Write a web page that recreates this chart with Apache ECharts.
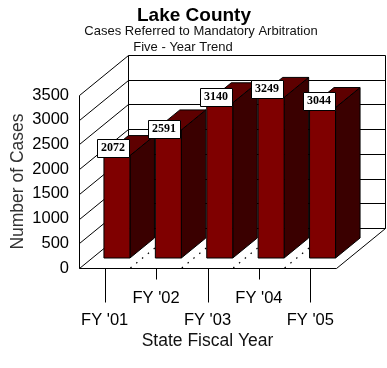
<!DOCTYPE html>
<html><head><meta charset="utf-8">
<style>html,body{margin:0;padding:0;background:#fff}#c{width:387px;height:368px}</style>
<script src="https://cdn.jsdelivr.net/npm/echarts@6/dist/echarts.min.js"></script>
</head><body><div id="c"></div>
<script>
var categories = ["FY '01","FY '02","FY '03","FY '04","FY '05"];
var cases = [2072,2591,3140,3249,3044];
var yTicks = [0,500,1000,1500,2000,2500,3000,3500];
var labelNudge = [-8,-1,-6,-8,-7];

var DX = 49, DY = -40;      // full depth of the 3D box
var front = 0.25, back = 0.75;
var FRONT='#7f0000', SIDE='#3a0000', TOP='#5e0000';
var line = {stroke:'#000',lineWidth:1,fill:null};
function at(p,d){return [p[0]+DX*d,p[1]+DY*d];}
function S(p){return [Math.round(p[0])+0.5,Math.round(p[1])+0.5];}
function seg(a,b,st){a=S(a);b=S(b);return {type:'line',shape:{x1:a[0],y1:a[1],x2:b[0],y2:b[1]},style:st||line};}
function poly(pts,fill){return {type:'polygon',shape:{points:pts},style:{fill:fill,stroke:'#000',lineWidth:1}};}

var chart = echarts.init(document.getElementById('c'),null,{renderer:'canvas'});
chart.setOption({
  animation:false,
  backgroundColor:'#fff',
  title:[
    {text:'Lake County',left:194,top:6,padding:0,textAlign:'center',textStyle:{fontFamily:'Liberation Sans',fontWeight:'bold',fontSize:19,color:'#000'}},
    {text:'Cases Referred to Mandatory Arbitration',left:201,top:25,padding:0,textAlign:'center',textStyle:{fontFamily:'Liberation Sans',fontWeight:'normal',fontSize:13,color:'#111'}},
    {text:'Five - Year Trend',left:183,top:41,padding:0,textAlign:'center',textStyle:{fontFamily:'Liberation Sans',fontWeight:'normal',fontSize:13,color:'#111'}}
  ],
  grid:{left:79,top:95,width:257,height:173,outerBoundsMode:'none'},
  xAxis:{type:'category',data:categories,
    name:'State Fiscal Year',nameLocation:'middle',nameGap:64,nameMoveOverlap:false,
    nameTextStyle:{fontFamily:'Liberation Sans',fontSize:17.5,color:'#111'},
    axisLine:{show:false},axisTick:{show:false},
    axisLabel:{interval:0,margin:19,lineHeight:22,fontFamily:'Liberation Sans',fontSize:16.5,color:'#000',
      verticalAlign:'top',
      formatter:function(v,i){return i%2? v+'\n ':' \n'+v;}}
  },
  yAxis:{type:'value',min:0,max:3500,interval:500,
    name:'Number of Cases',nameLocation:'middle',nameGap:52,nameRotate:90,nameMoveOverlap:false,
    nameTextStyle:{fontFamily:'Liberation Sans',fontSize:17.5,color:'#333'},
    axisLine:{show:false},axisTick:{show:false},splitLine:{show:false},
    axisLabel:{margin:10,fontFamily:'Liberation Sans',fontSize:16.5,color:'#000',formatter:function(v){return String(v);}}
  },
  series:[
    { // walls and gridlines
      type:'custom',silent:true,z:1,data:yTicks,
      encode:{y:0},
      renderItem:function(p,api){
        var v=api.value(0), left=api.coord([0,v]);
        var x0=p.coordSys.x, x1=x0+p.coordSys.width;
        var a=[x0,left[1]], b=at(a,1), c=at([x1,left[1]],1);
        var ch=[seg(a,b),seg(b,c)];
        if(v===0){
          var top=[x0,api.coord([0,3500])[1]];
          ch.push(seg(top,a));            // front-left vertical
          ch.push(seg(at(top,1),b));      // back-left vertical
          ch.push(seg(at([x1,top[1]],1),c)); // back-right vertical
          ch.push(seg(a,[x1,a[1]]));      // floor front
          ch.push(seg([x1,a[1]],c));      // floor right
        }
        return {type:'group',children:ch};
      }
    },
    { // dotted floor lines and long ticks
      type:'custom',silent:true,z:2,data:cases.map(function(v,i){return [i,v];}),
      encode:{x:0,y:1},
      renderItem:function(p,api){
        var i=api.value(0), pt=api.coord([i,0]), w=api.size([1,0])[0];
        var ch=[seg(pt,[pt[0],pt[1]+(i%2?11:34)])];
        if(i<4){
          var e=[pt[0]+w/2,pt[1]];
          ch.push({type:'line',shape:{x1:e[0],y1:e[1],x2:at(e,1)[0],y2:at(e,1)[1]},
            style:{stroke:'#000',lineWidth:1.2,lineDash:[1.5,6],fill:null}});
        }
        return {type:'group',children:ch};
      }
    },
    { // 3D bars
      type:'custom',z:3,data:cases.map(function(v,i){return [i,v];}),
      encode:{x:0,y:1},
      renderItem:function(p,api){
        var i=api.value(0), v=api.value(1);
        var c0=api.coord([i,0]), cv=api.coord([i,v]);
        var hw=13;
        var bl=at([c0[0]-hw,c0[1]],front), br=at([c0[0]+hw,c0[1]],front);
        var tl=at([c0[0]-hw,cv[1]],front), tr=at([c0[0]+hw,cv[1]],front);
        var d=(back-front);
        var btr=[tr[0]+DX*d,tr[1]+DY*d], btl=[tl[0]+DX*d,tl[1]+DY*d], bbr=[br[0]+DX*d,br[1]+DY*d];
        return {type:'group',children:[
          poly([tr,btr,bbr,br],SIDE),
          poly([tl,btl,btr,tr],TOP),
          poly([tl,tr,br,bl],FRONT)
        ]};
      }
    },
    { // value boxes
      type:'custom',z:4,data:cases.map(function(v,i){return [i,v];}),
      encode:{x:0,y:1},
      renderItem:function(p,api){
        var i=api.value(0), v=api.value(1), cv=api.coord([i,v]);
        var t=at([cv[0],cv[1]],front);
        var cx=Math.round(t[0]-4), cy=Math.round(t[1]+labelNudge[i]);
        return {type:'group',children:[
          {type:'rect',z2:5,shape:{x:cx-16+0.5,y:cy-9+0.5,width:32,height:18},style:{fill:'#fff',stroke:'#000',lineWidth:1}},
          {type:'text',z2:6,style:{x:cx,y:cy,text:String(v),align:'center',verticalAlign:'middle',
            font:'bold 12px "Liberation Serif"',fill:'#000'}}
        ]};
      }
    }
  ]
});
</script></body></html>
